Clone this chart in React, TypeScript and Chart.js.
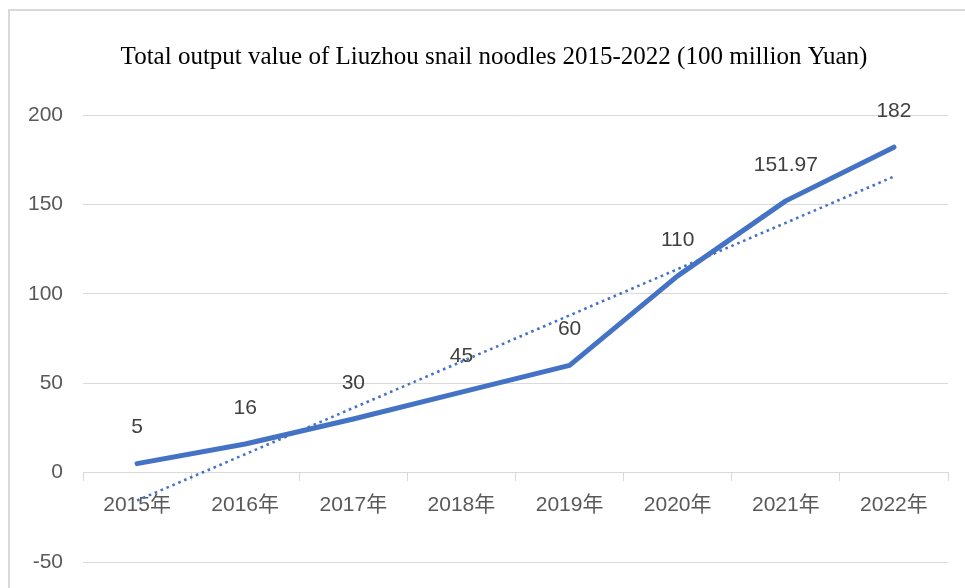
import React, { useEffect, useRef } from "react";
import { Chart, registerables } from "chart.js";

Chart.register(...registerables);

const categories = ["2015年", "2016年", "2017年", "2018年", "2019年", "2020年", "2021年", "2022年"];
const outputValues = [5, 16, 30, 45, 60, 110, 151.97, 182];
const yTicks = [-50, 0, 50, 100, 150, 200];
const titleText = "Total output value of Liuzhou snail noodles 2015-2022 (100 million Yuan)";

// Linear (least-squares) trendline, as Excel computes it from the series
function linearTrend(values: number[]): number[] {
  const n = values.length;
  const xs = values.map((_, i) => i + 1);
  const mx = xs.reduce((a, b) => a + b, 0) / n;
  const my = values.reduce((a, b) => a + b, 0) / n;
  let sxy = 0;
  let sxx = 0;
  for (let i = 0; i < n; i++) {
    sxy += (xs[i] - mx) * (values[i] - my);
    sxx += (xs[i] - mx) * (xs[i] - mx);
  }
  const slope = sxy / sxx;
  const intercept = my - slope * mx;
  return xs.map((x) => intercept + slope * x);
}

const BLUE = "#4472C4";
const GRID = "#d9d9d9";
const TEXT = "#595959";

const framePlugin = {
  id: "frame",
  beforeDraw(chart: any) {
    const ctx = chart.ctx;
    ctx.save();
    ctx.fillStyle = "#ffffff";
    ctx.fillRect(0, 0, chart.width, chart.height);
    ctx.strokeStyle = GRID;
    ctx.lineWidth = 2;
    ctx.beginPath();
    ctx.moveTo(9, chart.height);
    ctx.lineTo(9, 10);
    ctx.lineTo(chart.width, 10);
    ctx.stroke();
    // title
    ctx.fillStyle = "#000000";
    ctx.font = '25px "Liberation Serif", "Times New Roman", serif';
    ctx.textAlign = "center";
    ctx.textBaseline = "middle";
    ctx.fillText(titleText, 494, 57);
    ctx.restore();
  },
};

const dataLabelPlugin = {
  id: "dataLabels",
  afterDatasetsDraw(chart: any) {
    const ctx = chart.ctx;
    const meta = chart.getDatasetMeta(0);
    ctx.save();
    ctx.font = '21px "Liberation Sans", Arial, sans-serif';
    ctx.fillStyle = "#404040";
    ctx.textAlign = "center";
    ctx.textBaseline = "middle";
    meta.data.forEach((pt: any, i: number) => {
      ctx.fillText(String(outputValues[i]), pt.x, pt.y - 36);
    });
    ctx.restore();
  },
};

export default function App() {
  const canvasRef = useRef<HTMLCanvasElement | null>(null);

  useEffect(() => {
    if (!canvasRef.current) return;
    const chart = new Chart(canvasRef.current, {
      type: "line",
      data: {
        labels: categories,
        datasets: [
          {
            label: "Output value",
            data: outputValues,
            borderColor: BLUE,
            backgroundColor: BLUE,
            borderWidth: 5,
            borderCapStyle: "round",
            borderJoinStyle: "round",
            pointRadius: 0,
            tension: 0,
            order: 1,
          },
          {
            label: "Linear trend",
            data: linearTrend(outputValues),
            borderColor: BLUE,
            borderWidth: 2.6,
            borderDash: [2.6, 3.8],
            pointRadius: 0,
            tension: 0,
            order: 2,
          },
        ],
      },
      options: {
        responsive: false,
        animation: false,
        devicePixelRatio: 1,
        layout: { padding: { left: 0, right: 17, top: 115, bottom: 26 } },
        plugins: {
          legend: { display: false },
          tooltip: { enabled: false },
          title: { display: false },
        },
        scales: {
          x: {
            type: "category",
            position: { y: 0 } as any,
            offset: true,
            afterFit(scale: any) {
              scale.height = 0;
            },
            grid: {
              offset: true,
              drawOnChartArea: false,
              drawTicks: true,
              tickLength: 8,
              color: GRID,
            },
            border: { display: true, color: GRID, width: 1 },
            ticks: {
              color: TEXT,
              font: { family: '"Liberation Sans", Arial, "Noto Sans CJK SC", sans-serif', size: 21 },
              padding: 12,
              maxRotation: 0,
              autoSkip: false,
            },
          },
          y: {
            min: -50,
            max: 200,
            afterBuildTicks(scale: any) {
              scale.ticks = yTicks.map((v) => ({ value: v }));
            },
            afterFit(scale: any) {
              scale.width = 83;
              scale.paddingTop = 12;
              scale.paddingBottom = 12;
            },
            grid: { color: GRID, drawTicks: false, lineWidth: 1 },
            border: { display: false },
            ticks: {
              color: TEXT,
              font: { family: '"Liberation Sans", Arial, sans-serif', size: 21 },
              padding: 20,
            },
          },
        },
      },
      plugins: [framePlugin, dataLabelPlugin],
    });
    return () => chart.destroy();
  }, []);

  return (
    <div style={{ position: "fixed", left: 0, top: 0, width: 965, height: 588 }}>
      <canvas ref={canvasRef} width={965} height={588} style={{ display: "block" }} />
    </div>
  );
}
